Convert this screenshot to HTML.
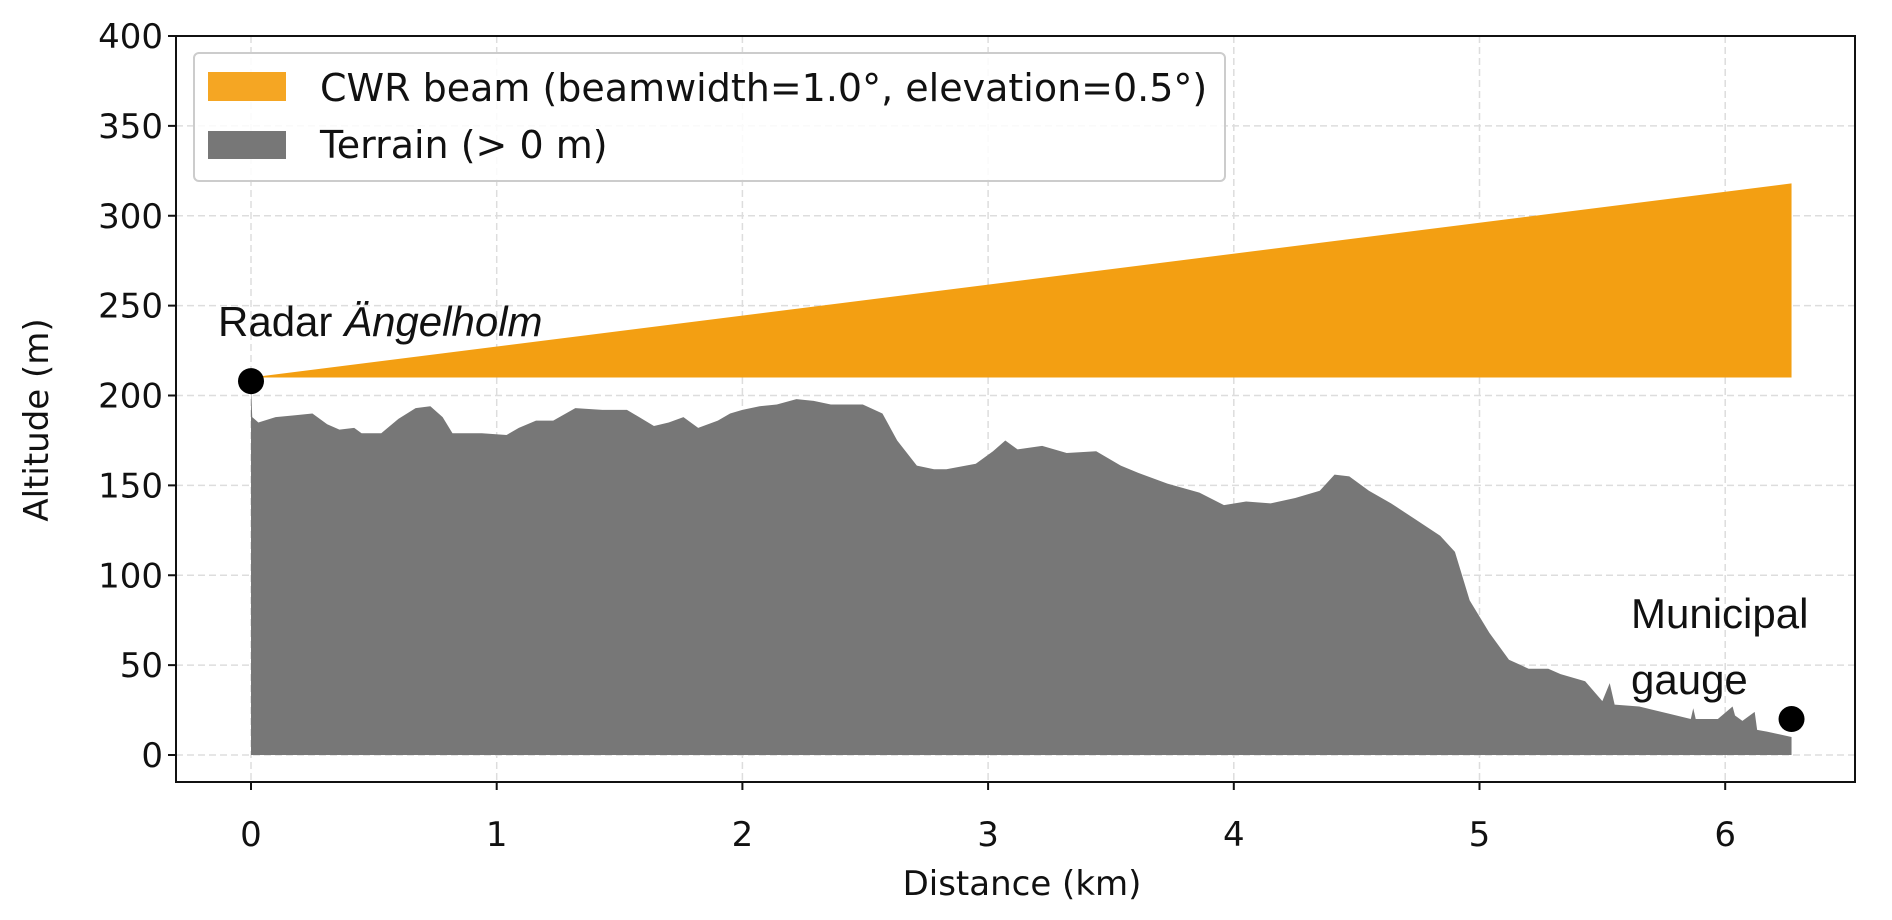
<!DOCTYPE html>
<html><head><meta charset="utf-8"><style>
body{margin:0;background:#fff}
svg{display:block}
text{font-family:"DejaVu Sans","Liberation Sans",sans-serif;fill:#111}
</style></head><body>
<svg id="chart" width="1892" height="920" viewBox="0 0 1892 920"></svg>
<script>
const xTicks=[0,1,2,3,4,5,6];
const yTicks=[0,50,100,150,200,250,300,350,400];
const terrainX=[0,0.005,0.03,0.1,0.18,0.25,0.31,0.36,0.42,0.45,0.53,0.6,0.67,0.73,0.78,0.82,0.94,1.04,1.09,1.16,1.23,1.32,1.43,1.53,1.58,1.64,1.7,1.76,1.82,1.9,1.95,2.0,2.07,2.14,2.22,2.29,2.36,2.49,2.57,2.63,2.71,2.78,2.83,2.95,3.02,3.07,3.12,3.22,3.32,3.44,3.54,3.61,3.73,3.86,3.96,4.05,4.15,4.25,4.35,4.41,4.47,4.55,4.64,4.74,4.84,4.9,4.96,5.04,5.12,5.2,5.28,5.33,5.43,5.5,5.53,5.55,5.65,5.77,5.86,5.87,5.88,5.97,6.03,6.04,6.07,6.12,6.13,6.17,6.27];
const terrainY=[205,188,185,188,189,190,184,181,182,179,179,187,193,194,188,179,179,178,182,186,186,193,192,192,188,183,185,188,182,186,190,192,194,195,198,197,195,195,190,175,161,159,159,162,169,175,170,172,168,169,161,157,151,146,139,141,140,143,147,156,155,147,140,131,122,113,86,68,53,48,48,45,41,30,40,28,27,23,20,26,20,20,27,22,19,24,14,13,10];
const beamX=[0,6.27];
const beamBottom=[210,210];
const beamTop=[210,318];
const radarPoint=[0,208];
const gaugePoint=[6.27,20];

const NS="http://www.w3.org/2000/svg";
const svg=document.getElementById('chart');
const L=176,R=1855,T=36,B=782;
const sx=v=>251+v*245.7;
const sy=v=>755-v*1.7975;
function mk(tag,attrs,parent){const e=document.createElementNS(NS,tag);for(const k in attrs)e.setAttribute(k,attrs[k]);(parent||svg).appendChild(e);return e;}

xTicks.forEach(t=>{
  const g=mk('line',{x1:sx(t),x2:sx(t),y1:T,y2:B,stroke:'#ddd','stroke-width':1.5,'stroke-dasharray':'7,4'});
  
  
});
yTicks.forEach(t=>{
  const g=mk('line',{x1:L,x2:R,y1:sy(t),y2:sy(t),stroke:'#ddd','stroke-width':1.5,'stroke-dasharray':'7,4'});
  
  
});

let bp='M'+beamX.map((x,i)=>sx(x)+','+sy(beamTop[i])).join(' L')+' L'+beamX.slice().reverse().map((x,i)=>sx(x)+','+sy(beamBottom[beamBottom.length-1-i])).join(' L')+'Z';
const beam=mk('path',{d:bp,fill:'#f39f12'});



let tp='M'+sx(terrainX[0])+','+sy(0)+' '+terrainX.map((x,i)=>'L'+sx(x)+','+sy(terrainY[i])).join(' ')+' L'+sx(terrainX[terrainX.length-1])+','+sy(0)+'Z';
const terr=mk('path',{d:tp,fill:'#777777'});



const rp=mk('circle',{cx:sx(radarPoint[0]),cy:sy(radarPoint[1]),r:13,fill:'#000'});


const gp=mk('circle',{cx:sx(gaugePoint[0]),cy:sy(gaugePoint[1]),r:13,fill:'#000'});



const fr=mk('rect',{x:L,y:T,width:R-L,height:B-T,fill:'none',stroke:'#111','stroke-width':2});



xTicks.forEach(t=>{
  const tk=mk('line',{x1:sx(t),x2:sx(t),y1:B,y2:B+8,stroke:'#111','stroke-width':2});
  
  
  const lb=mk('text',{x:sx(t),y:846,'text-anchor':'middle','font-size':34});
  lb.textContent=t;
  
  
});
yTicks.forEach(t=>{
  const tk=mk('line',{x1:L-8,x2:L,y1:sy(t),y2:sy(t),stroke:'#111','stroke-width':2});
  
  
  const lb=mk('text',{x:L-13,y:sy(t)+12,'text-anchor':'end','font-size':34});
  lb.textContent=t;
  
  
});
</script>
<svg width="1892" height="920" style="position:absolute;left:0;top:0">
  <text x="1022" y="895" text-anchor="middle" font-size="34">Distance (km)</text>
  <text transform="translate(48,420) rotate(-90)" text-anchor="middle" font-size="34">Altitude (m)</text>
  <g>
    <rect x="194" y="53" width="1031" height="128" rx="5" fill="#fff" fill-opacity="0.85" stroke="#ccc" stroke-width="2"/>
    <rect x="208" y="72" width="78" height="29" fill="#f5a623"/>
    <text x="320" y="101" font-size="38">CWR beam (beamwidth=1.0°, elevation=0.5°)</text>
    <rect x="208" y="131" width="78" height="28" fill="#777"/>
    <text x="320" y="158" font-size="38">Terrain (&gt; 0 m)</text>
  </g>
  <text x="218" y="336" font-size="42" style="font-family:'Liberation Sans',sans-serif">Radar <tspan font-style="italic">Ängelholm</tspan></text>
  <text x="1631" y="628" font-size="42" style="font-family:'Liberation Sans',sans-serif">Municipal</text>
  <text x="1631" y="694" font-size="42" style="font-family:'Liberation Sans',sans-serif">gauge</text>
</svg>
</body></html>
